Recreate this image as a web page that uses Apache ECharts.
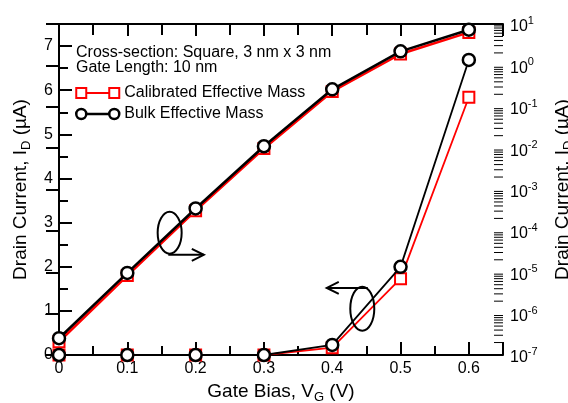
<!DOCTYPE html>
<html>
<head>
<meta charset="utf-8">
<script src="https://cdn.jsdelivr.net/npm/echarts@6/dist/echarts.min.js"></script>
<style>
  html, body { margin: 0; padding: 0; background: #fff; }
  #chart { width: 568px; height: 403px; }
</style>
</head>
<body>
<div id="chart"></div>
<script>
// gate bias (V)
const gateBias = [0, 0.1, 0.2, 0.3, 0.4, 0.5, 0.6]
// drain current, linear scale (uA) -> left axis
const calibratedLinear = [0.3, 1.8, 3.27, 4.68, 5.97, 6.82, 7.31]
const bulkLinear = [0.38, 1.86, 3.32, 4.73, 6.02, 6.88, 7.37]
// drain current, log scale (uA) -> right axis
const calibratedLog = [1e-7, 1e-7, 1e-7, 1e-7, 1.5e-7, 7e-6, 0.17]
const bulkLog = [1e-7, 1e-7, 1e-7, 1e-7, 1.75e-7, 1.35e-5, 1.35]
// right axis decades (exponents)
const decades = [-7, -6, -5, -4, -3, -2, -1, 0, 1]

const FONT = 'Liberation Sans'
const RED = '#ff0000'
const pair = arr => gateBias.map((x, i) => [x, arr[i]])

const squareIcon = 'path://M0,0 L10,0 L10,10 L0,10 Z M10,5 L33,5 M33,0 L43,0 L43,10 L33,10 Z'
const circleIcon = 'path://M5,0 A5,5 0 1,1 5,10 A5,5 0 1,1 5,0 Z M10,5 L33,5 M38,0 A5,5 0 1,1 38,10 A5,5 0 1,1 38,0 Z'

const chart = echarts.init(document.getElementById('chart'))

const nameStyle = {
  fontFamily: FONT, fontSize: 19, color: '#000',
  rich: { sub: { fontFamily: FONT, fontSize: 13, color: '#000', padding: [12, 0, 0, 0] } }
}

const option = {
  animation: false,
  textStyle: { fontFamily: FONT },
  title: {
    text: 'Cross-section: Square, 3 nm x 3 nm\nGate Length: 10 nm',
    left: 76,
    top: 45,
    padding: 0,
    textStyle: { fontFamily: FONT, fontSize: 16, fontWeight: 'normal', color: '#000', lineHeight: 15 }
  },
  legend: {
    orient: 'vertical',
    left: 75,
    top: 85,
    padding: 0,
    itemWidth: 43,
    itemHeight: 12,
    itemGap: 5,
    textStyle: { fontFamily: FONT, fontSize: 16, color: '#000' },
    data: [
      { name: 'Calibrated Effective Mass', icon: squareIcon, itemStyle: { color: '#fff', borderColor: RED, borderWidth: 2 } },
      { name: 'Bulk Effective Mass', icon: circleIcon, itemStyle: { color: '#fff', borderColor: '#000', borderWidth: 2.5 } }
    ]
  },
  grid: { left: 59, right: 65, top: 24, bottom: 48, containLabel: false, outerBoundsMode: 'none' },
  xAxis: [
    {
      type: 'value',
      min: 0,
      max: 0.65,
      interval: 0.1,
      name: 'Gate Bias, V{sub|G} (V)',
      nameLocation: 'middle',
      nameGap: 24,
      nameTextStyle: nameStyle,
      axisLine: { lineStyle: { color: '#000', width: 2 } },
      axisTick: { inside: true, length: 13, lineStyle: { color: '#000', width: 2 } },
      minorTick: { show: true, splitNumber: 2, length: 9, lineStyle: { color: '#000', width: 2 } },
      axisLabel: { fontSize: 16, color: '#000', margin: 6, showMaxLabel: false, formatter: v => String(+v.toFixed(1)) },
      splitLine: { show: false }
    },
    {
      type: 'value',
      position: 'top',
      min: 0,
      max: 0.65,
      interval: 0.1,
      axisLine: { lineStyle: { color: '#000', width: 2 } },
      axisTick: { inside: true, length: 12, lineStyle: { color: '#000', width: 2 } },
      minorTick: { show: true, splitNumber: 2, length: 11, lineStyle: { color: '#000', width: 2 } },
      axisLabel: { show: false },
      splitLine: { show: false }
    }
  ],
  yAxis: [
    {
      type: 'value',
      min: 0,
      max: 7.5,
      interval: 1,
      name: 'Drain Current, I{sub|D} (\u00b5A)',
      nameLocation: 'middle',
      nameGap: 20,
      nameTextStyle: nameStyle,
      axisLine: { lineStyle: { color: '#000', width: 2 } },
      axisTick: { inside: true, length: 13, lineStyle: { color: '#000', width: 2 } },
      minorTick: { show: true, splitNumber: 2, length: 9, lineStyle: { color: '#000', width: 2 } },
      axisLabel: { fontSize: 16, color: '#000', margin: 6, showMaxLabel: false },
      splitLine: { show: false }
    },
    {
      type: 'log',
      logBase: 10,
      min: 1e-7,
      max: 10,
      position: 'right',
      name: 'Drain Current, I{sub|D} (\u00b5A)',
      nameLocation: 'middle',
      nameGap: 47,
      nameRotate: 90,
      nameTextStyle: nameStyle,
      axisLine: { lineStyle: { color: '#000', width: 2 } },
      axisTick: { inside: true, length: 13, lineStyle: { color: '#000', width: 2 } },
      axisLabel: {
        color: '#000',
        margin: 7,
        formatter: v => '{b|10}{s|' + Math.round(Math.log10(v)) + '}',
        rich: {
          b: { fontFamily: FONT, fontSize: 16, color: '#000', padding: [6, 0, 0, 0] },
          s: { fontFamily: FONT, fontSize: 11, color: '#000', padding: [0, 0, 6, 0] }
        }
      },
      splitLine: { show: false }
    }
  ],
  series: [
    {
      name: 'Calibrated Effective Mass',
      type: 'line',
      yAxisIndex: 0,
      data: pair(calibratedLinear),
      symbol: 'rect',
      symbolSize: 11,
      clip: false,
      itemStyle: { color: '#fff', borderColor: RED, borderWidth: 2 },
      lineStyle: { color: RED, width: 2.5 },
      z: 2
    },
    {
      name: 'Calibrated Effective Mass',
      type: 'line',
      yAxisIndex: 1,
      data: pair(calibratedLog),
      symbol: 'rect',
      symbolSize: 11,
      clip: false,
      itemStyle: { color: '#fff', borderColor: RED, borderWidth: 2 },
      lineStyle: { color: RED, width: 1.8 },
      z: 2
    },
    {
      name: 'Bulk Effective Mass',
      type: 'line',
      yAxisIndex: 0,
      data: pair(bulkLinear),
      symbol: 'circle',
      symbolSize: 12,
      clip: false,
      itemStyle: { color: '#fff', borderColor: '#000', borderWidth: 2.5 },
      lineStyle: { color: '#000', width: 2.5 },
      z: 3
    },
    {
      name: 'Bulk Effective Mass',
      type: 'line',
      yAxisIndex: 1,
      data: pair(bulkLog),
      symbol: 'circle',
      symbolSize: 12,
      clip: false,
      itemStyle: { color: '#fff', borderColor: '#000', borderWidth: 2.5 },
      lineStyle: { color: '#000', width: 1.8 },
      z: 3
    }
  ]
}

chart.setOption(option)

// log minor ticks on the right axis (2..9 in every decade)
const xRight = chart.convertToPixel({ xAxisIndex: 0 }, 0.65)
const graphics = []
decades.slice(0, -1).forEach(d => {
  for (let k = 2; k <= 9; k++) {
    const y = chart.convertToPixel({ yAxisIndex: 1 }, k * Math.pow(10, d))
    graphics.push({
      type: 'line',
      shape: { x1: xRight - 9, y1: y, x2: xRight, y2: y },
      style: { stroke: '#000', lineWidth: 1 },
      z: 10
    })
  }
})

// ellipse + arrow annotations (data coords on left axis)
const px = (x, y) => chart.convertToPixel({ xAxisIndex: 0, yAxisIndex: 0 }, [x, y])
const e1 = px(0.162, 2.77)
const a1s = px(0.16, 2.27)
const a1e = px(0.212, 2.27)
const e2 = px(0.444, 1.05)
const a2s = px(0.452, 1.52)
const a2e = px(0.392, 1.52)
const arrow = (s, e, dir) => [
  { type: 'line', shape: { x1: s[0], y1: s[1], x2: e[0], y2: e[1] }, style: { stroke: '#000', lineWidth: 2 }, z: 10 },
  { type: 'polyline', shape: { points: [[e[0] - dir * 12, e[1] - 6], [e[0], e[1]], [e[0] - dir * 12, e[1] + 6]] }, style: { stroke: '#000', lineWidth: 2, fill: null }, z: 10 }
]
graphics.push(
  { type: 'ellipse', shape: { cx: e1[0], cy: e1[1], rx: 12, ry: 21 }, style: { stroke: '#000', lineWidth: 2, fill: null }, z: 10 },
  ...arrow(a1s, a1e, 1),
  { type: 'ellipse', shape: { cx: e2[0], cy: e2[1], rx: 12, ry: 22 }, style: { stroke: '#000', lineWidth: 2, fill: null }, z: 10 },
  ...arrow(a2s, a2e, -1)
)
chart.setOption({ graphic: graphics })
</script>
</body>
</html>
